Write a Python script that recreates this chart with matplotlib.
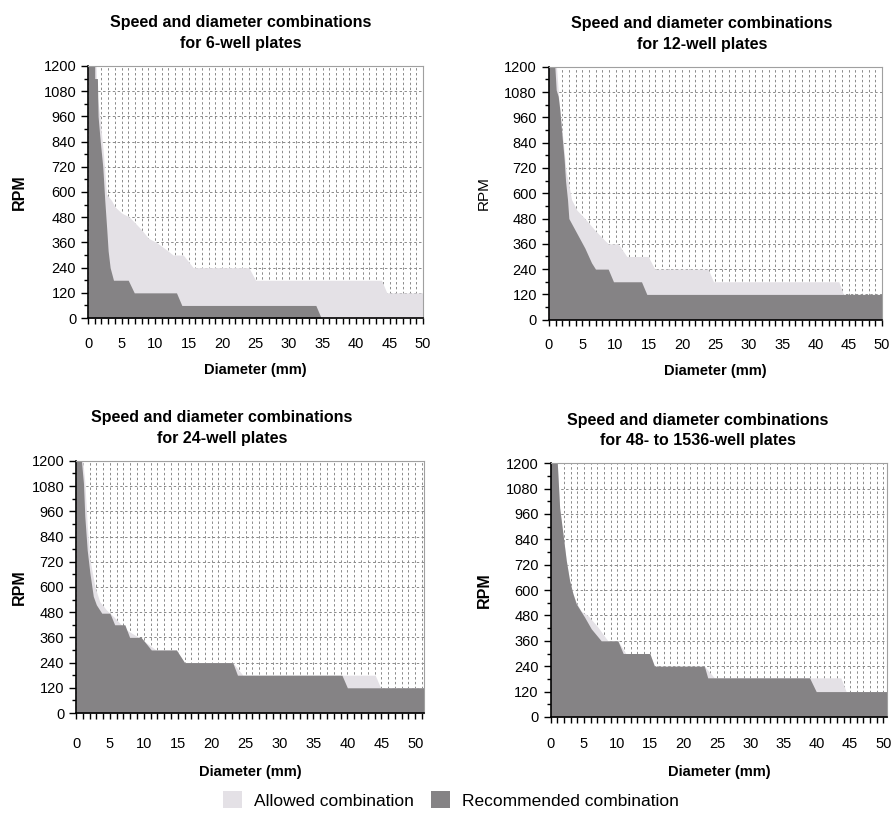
import matplotlib
matplotlib.use("Agg")
import matplotlib.pyplot as plt
from matplotlib.patches import Patch
from matplotlib.ticker import MultipleLocator

plt.rcParams['font.family'] = ['Liberation Sans', 'DejaVu Sans']

titles = ["Speed and diameter combinations\nfor 6-well plates",
          "Speed and diameter combinations\nfor 12-well plates",
          "Speed and diameter combinations\nfor 24-well plates",
          "Speed and diameter combinations\nfor 48- to 1536-well plates"]

# 6-well
allowed6_x = [0, 1.2, 1.3, 1.75, 2.25, 2.5, 2.75, 3.5, 4.0, 5.0, 6.2, 8.0, 9.0, 10.2, 11.5, 12.7, 14.2, 15.7, 24.0, 25.0, 43.8, 44.6, 50]
allowed6_y = [1200, 1200, 1080, 960, 800, 700, 590, 560, 530, 500, 480, 420, 380, 360, 330, 300, 300, 240, 240, 180, 180, 120, 120]
recommended6_x = [0, 1.0, 1.0, 1.4, 1.5, 1.8, 2.2, 2.5, 2.8, 3.0, 3.3, 3.8, 6.0, 6.9, 13.2, 14.0, 34.0, 34.8]
recommended6_y = [1200, 1200, 1140, 1140, 960, 850, 720, 560, 420, 320, 240, 180, 180, 120, 120, 60, 60, 0]

# 12-well
allowed12_x = [0, 1.15, 1.6, 1.9, 2.3, 2.6, 3.0, 3.4, 4.2, 5.4, 6.9, 8.9, 10.4, 11.7, 14.9, 15.9, 23.9, 24.7, 43.5, 44.2, 50]
allowed12_y = [1200, 1200, 1000, 920, 800, 700, 640, 570, 520, 480, 425, 360, 360, 300, 300, 240, 240, 180, 180, 120, 120]
recommended12_x = [0, 0.9, 1.1, 1.4, 1.65, 1.9, 2.3, 2.5, 2.8, 3.0, 4.2, 5.4, 6.4, 7.0, 8.9, 9.7, 13.9, 14.7, 50]
recommended12_y = [1200, 1200, 1090, 1060, 995, 900, 760, 660, 570, 480, 410, 340, 270, 240, 240, 180, 180, 120, 120]

# 24-well
allowed24_x = [0, 1.0, 1.3, 1.65, 2.05, 2.8, 3.5, 4.5, 5.5, 7.4, 9.4, 11.8, 14.8, 16.0, 23.1, 24.6, 44.1, 44.9, 51.3]
allowed24_y = [1200, 1200, 1100, 900, 730, 600, 530, 490, 460, 396, 357, 300, 300, 240, 240, 180, 180, 120, 120]
recommended24_x = [0, 0.8, 1.1, 1.3, 1.65, 2.05, 2.55, 3.0, 3.8, 5.0, 5.7, 7.2, 7.9, 9.6, 11.1, 14.8, 16.0, 23.1, 23.8, 39.2, 40.0, 51.3]
recommended24_y = [1200, 1200, 1094, 935, 776, 666, 555, 515, 475, 475, 420, 420, 360, 360, 300, 300, 240, 240, 180, 180, 120, 120]

# 48- to 1536-well
allowed48_x = [0, 1.0, 1.35, 1.85, 2.35, 2.85, 3.35, 3.85, 4.6, 5.6, 7.1, 8.6, 10.1, 11.3, 14.9, 15.6, 23.1, 24.6, 43.6, 44.4, 50.6]
allowed48_y = [1200, 1200, 990, 866, 740, 645, 583, 540, 500, 480, 425, 360, 360, 300, 300, 240, 240, 185, 185, 120, 120]
recommended48_x = [0, 1.0, 1.35, 1.85, 2.35, 2.85, 3.35, 3.85, 5.1, 6.1, 7.6, 10.1, 10.9, 14.9, 15.6, 23.1, 23.6, 38.9, 39.9, 50.6]
recommended48_y = [1200, 1200, 990, 866, 740, 645, 583, 535, 472, 417, 360, 360, 300, 300, 240, 240, 185, 185, 120, 120]

light = "#e4e1e6"
dark = "#858385"

fig = plt.figure(figsize=(8.91, 8.24), dpi=100)

# rect, xmax, title x, bold ylabel, ylabel x, xtick pad, xlabel pad
panels = [
    ([0.0988, 0.614, 0.376, 0.306], 50.0, 0.457, True, -0.182, 9.5, 9, allowed6_x, allowed6_y, recommended6_x, recommended6_y),
    ([0.616, 0.612, 0.374, 0.307], 50.0, 0.46, False, -0.174, 9.5, 8, allowed12_x, allowed12_y, recommended12_x, recommended12_y),
    ([0.0853, 0.1347, 0.3906, 0.306], 51.3, 0.42, True, -0.141, 13.5, 9.5, allowed24_x, allowed24_y, recommended24_x, recommended24_y),
    ([0.618, 0.1299, 0.378, 0.308], 50.6, 0.436, True, -0.175, 10.5, 10, allowed48_x, allowed48_y, recommended48_x, recommended48_y),
]

for i, (rect, xmax, tx, boldy, ylx, tpad, lpad, ax_, ay_, rx_, ry_) in enumerate(panels):
    ax = fig.add_axes(rect)
    ax.set_axisbelow(True)
    ax.fill_between(ax_, 0, ay_, color=light, linewidth=0, zorder=1)
    ax.fill_between(rx_, 0, ry_, color=dark, linewidth=0, zorder=2)
    ax.set_xlim(0, xmax)
    ax.set_ylim(0, 1200)
    ax.xaxis.set_major_locator(MultipleLocator(5))
    ax.xaxis.set_minor_locator(MultipleLocator(1))
    ax.yaxis.set_major_locator(MultipleLocator(120))
    ax.yaxis.set_minor_locator(MultipleLocator(60))
    grid_kw = dict(color='#8a8a8a', linestyle=(0, (2.5, 2.5)), linewidth=0.7)
    ax.grid(which='minor', axis='x', **grid_kw)
    ax.grid(which='major', axis='x', **grid_kw)
    ax.grid(which='major', axis='y', **grid_kw)
    ax.tick_params(which='both', direction='out', labelsize=10.5, width=1.0, color='black')
    ax.tick_params(axis='x', which='both', length=4, pad=tpad)
    ax.tick_params(axis='y', which='major', length=5)
    ax.tick_params(axis='y', which='minor', length=3)
    ax.spines['top'].set_color('#a0a0a0')
    ax.spines['right'].set_color('#a0a0a0')
    ax.spines['left'].set_linewidth(1.2)
    ax.spines['bottom'].set_linewidth(1.2)
    ax.set_title(titles[i], x=tx, fontsize=11.5, fontweight='bold', pad=13, linespacing=1.45)
    ax.set_xlabel("Diameter (mm)", fontsize=10.5, fontweight='bold', labelpad=lpad)
    ax.set_ylabel("RPM", fontsize=11.5 if boldy else 11, fontweight='bold' if boldy else 'normal')
    ax.yaxis.set_label_coords(ylx, 0.5)

handles = [Patch(facecolor=light, edgecolor='none', label="Allowed combination"),
           Patch(facecolor=dark, edgecolor='none', label="Recommended combination")]
fig.legend(handles=handles, loc='center', bbox_to_anchor=(0.506, 0.029), ncol=2, frameon=False,
           fontsize=12.5, handlelength=1.1, handleheight=1.1, handletextpad=0.7, columnspacing=1.0)

fig.savefig("out.png", dpi=100)
